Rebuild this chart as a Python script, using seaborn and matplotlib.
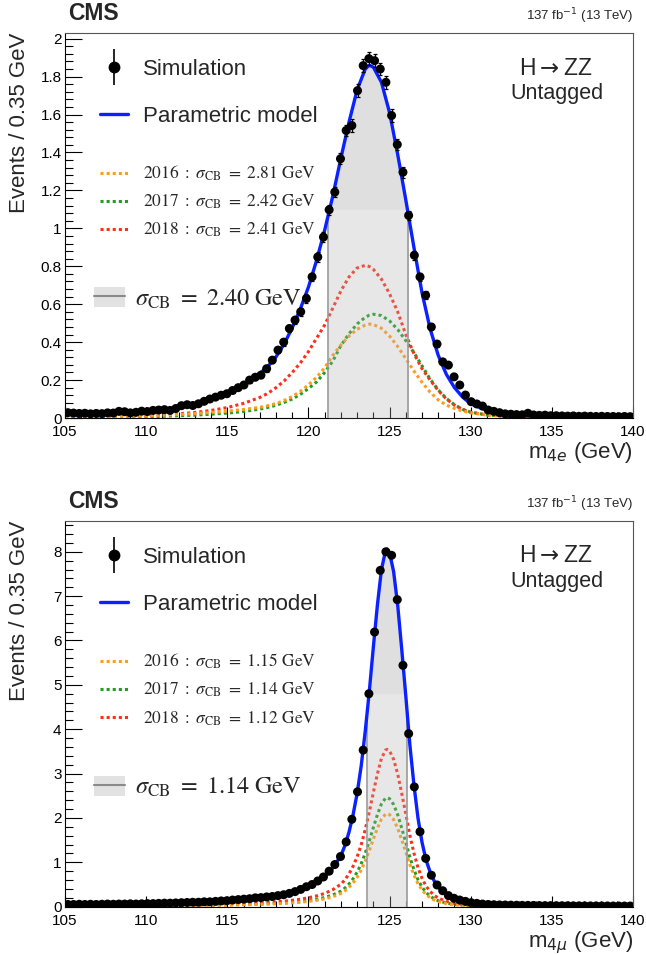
import numpy as np
import pandas as pd
import matplotlib
matplotlib.use("Agg")
import matplotlib.pyplot as plt
import seaborn as sns
from matplotlib.lines import Line2D
from matplotlib.patches import Patch
from matplotlib.legend_handler import HandlerTuple
from matplotlib.ticker import MultipleLocator, FuncFormatter

# ---------------- histogram binning (0.35 GeV bins, 105-140 GeV) ----------------
BIN_LO, BIN_HI, N_BINS = 105.0, 140.0, 100

# ---------------- top panel: m_4e ----------------
sim_4e = [
    0.028, 0.026, 0.024, 0.025, 0.022, 0.024, 0.023, 0.027, 0.026, 0.035,
    0.033, 0.027, 0.030, 0.036, 0.034, 0.040, 0.042, 0.044, 0.040, 0.050,
    0.065, 0.070, 0.066, 0.075, 0.088, 0.100, 0.110, 0.120, 0.128, 0.145,
    0.160, 0.174, 0.200, 0.215, 0.226, 0.260, 0.305, 0.358, 0.400, 0.472,
    0.516, 0.560, 0.630, 0.744, 0.849, 0.954, 1.098, 1.191, 1.367, 1.516,
    1.542, 1.726, 1.858, 1.895, 1.884, 1.840, 1.770, 1.595, 1.442, 1.296,
    1.068, 0.858, 0.744, 0.647, 0.480, 0.390, 0.296, 0.279, 0.217, 0.174,
    0.121, 0.086, 0.074, 0.063, 0.042, 0.035, 0.028, 0.022, 0.020, 0.018,
    0.017, 0.025, 0.016, 0.014, 0.015, 0.012, 0.012, 0.011, 0.010, 0.011,
    0.009, 0.010, 0.009, 0.008, 0.009, 0.008, 0.008, 0.007, 0.008, 0.007]
err_4e = [
    0.004, 0.004, 0.004, 0.004, 0.004, 0.004, 0.004, 0.004, 0.004, 0.004,
    0.005, 0.005, 0.005, 0.005, 0.005, 0.005, 0.005, 0.005, 0.005, 0.005,
    0.007, 0.007, 0.008, 0.008, 0.009, 0.009, 0.010, 0.010, 0.011, 0.011,
    0.012, 0.012, 0.013, 0.014, 0.014, 0.015, 0.016, 0.017, 0.018, 0.019,
    0.020, 0.021, 0.022, 0.023, 0.024, 0.025, 0.026, 0.027, 0.028, 0.030,
    0.032, 0.033, 0.034, 0.034, 0.034, 0.034, 0.033, 0.032, 0.030, 0.028,
    0.026, 0.024, 0.022, 0.020, 0.018, 0.016, 0.014, 0.013, 0.012, 0.011,
    0.010, 0.009, 0.008, 0.008, 0.007, 0.007, 0.006, 0.006, 0.005, 0.005,
    0.005, 0.005, 0.005, 0.005, 0.005, 0.004, 0.004, 0.004, 0.004, 0.004,
    0.004, 0.004, 0.004, 0.004, 0.004, 0.004, 0.004, 0.004, 0.004, 0.004]

x_4e = [105, 107, 109, 110, 111, 112, 113, 114, 115, 116, 117, 117.5, 118, 118.5,
        119, 119.5, 120, 120.5, 121, 121.5, 122, 122.5, 123, 123.5, 123.75, 124,
        124.5, 125, 125.5, 126, 126.5, 127, 127.5, 128, 128.5, 129, 129.5, 130,
        131, 132, 133, 135, 137, 140]
model_4e = [0.020, 0.022, 0.028, 0.033, 0.042, 0.055, 0.073, 0.098, 0.132, 0.178,
            0.235, 0.272, 0.322, 0.390, 0.475, 0.575, 0.690, 0.830, 0.990, 1.170,
            1.370, 1.560, 1.730, 1.840, 1.860, 1.850, 1.770, 1.610, 1.390, 1.150,
            0.900, 0.660, 0.470, 0.330, 0.230, 0.160, 0.110, 0.075, 0.040, 0.026,
            0.018, 0.012, 0.010, 0.008]
y2016_4e = [0.005, 0.007, 0.009, 0.011, 0.014, 0.018, 0.023, 0.029, 0.036, 0.045,
            0.056, 0.065, 0.076, 0.092, 0.113, 0.140, 0.175, 0.215, 0.265, 0.330,
            0.385, 0.432, 0.468, 0.490, 0.495, 0.493, 0.473, 0.432, 0.377, 0.313,
            0.248, 0.188, 0.136, 0.095, 0.068, 0.050, 0.037, 0.027, 0.016, 0.010,
            0.007, 0.004, 0.003, 0.002]
y2017_4e = [0.004, 0.005, 0.006, 0.007, 0.009, 0.012, 0.015, 0.020, 0.026, 0.034,
            0.047, 0.056, 0.067, 0.082, 0.100, 0.125, 0.155, 0.190, 0.240, 0.300,
            0.382, 0.444, 0.496, 0.531, 0.542, 0.547, 0.540, 0.512, 0.467, 0.408,
            0.345, 0.275, 0.205, 0.148, 0.103, 0.070, 0.046, 0.031, 0.016, 0.010,
            0.007, 0.004, 0.003, 0.002]
y2018_4e = [0.006, 0.008, 0.011, 0.013, 0.017, 0.022, 0.029, 0.040, 0.055, 0.077,
            0.108, 0.130, 0.160, 0.195, 0.240, 0.290, 0.350, 0.420, 0.490, 0.579,
            0.670, 0.744, 0.791, 0.805, 0.799, 0.784, 0.732, 0.655, 0.560, 0.440,
            0.340, 0.260, 0.200, 0.145, 0.100, 0.068, 0.045, 0.030, 0.016, 0.010,
            0.007, 0.004, 0.003, 0.002]
band_4e = (121.22, 126.15)
band_dark_4e = 1.10
sigma_years_4e = ["2.81", "2.42", "2.41"]
sigma_all_4e = "2.40"

# ---------------- bottom panel: m_4mu ----------------
sim_4mu = [
    0.050, 0.050, 0.055, 0.050, 0.055, 0.050, 0.055, 0.060, 0.055, 0.060,
    0.060, 0.065, 0.060, 0.065, 0.070, 0.070, 0.075, 0.080, 0.080, 0.085,
    0.090, 0.095, 0.100, 0.100, 0.110, 0.110, 0.120, 0.130, 0.135, 0.150,
    0.160, 0.170, 0.180, 0.200, 0.205, 0.220, 0.230, 0.250, 0.270, 0.300,
    0.340, 0.390, 0.450, 0.500, 0.580, 0.670, 0.800, 0.950, 1.130, 1.460,
    1.970, 2.590, 3.530, 4.800, 6.190, 7.580, 8.000, 7.920, 6.920, 5.440,
    3.900, 2.700, 1.690, 1.090, 0.710, 0.490, 0.360, 0.250, 0.190, 0.150,
    0.120, 0.090, 0.075, 0.060, 0.050, 0.045, 0.040, 0.038, 0.035, 0.033,
    0.030, 0.030, 0.028, 0.026, 0.025, 0.024, 0.023, 0.022, 0.022, 0.020,
    0.020, 0.019, 0.018, 0.018, 0.017, 0.017, 0.016, 0.016, 0.015, 0.015]

x_4mu = [105, 107, 109, 111, 113, 115, 116, 117, 118, 118.5, 119, 119.5, 120,
         120.5, 121, 121.5, 122, 122.25, 122.5, 122.75, 123, 123.25, 123.5, 123.75,
         124, 124.25, 124.5, 124.75, 124.85, 125, 125.25, 125.5, 125.75, 126,
         126.25, 126.5, 126.75, 127, 127.25, 127.5, 127.75, 128, 128.5, 129, 129.5,
         130, 131, 132, 134, 137, 140]
model_4mu = [0.050, 0.055, 0.065, 0.080, 0.100, 0.140, 0.170, 0.200, 0.250, 0.280,
             0.330, 0.380, 0.460, 0.550, 0.680, 0.870, 1.150, 1.380, 1.680, 2.070,
             2.550, 3.170, 3.950, 4.850, 5.850, 6.800, 7.600, 8.020, 8.060, 7.980,
             7.550, 6.800, 5.800, 4.750, 3.650, 2.750, 2.000, 1.450, 1.050, 0.780,
             0.580, 0.440, 0.270, 0.170, 0.120, 0.085, 0.050, 0.035, 0.022, 0.015,
             0.012]
y2016_4mu = [0.013, 0.014, 0.017, 0.021, 0.026, 0.036, 0.044, 0.052, 0.065, 0.073,
             0.086, 0.099, 0.120, 0.143, 0.177, 0.226, 0.299, 0.359, 0.437, 0.538,
             0.663, 0.824, 1.027, 1.261, 1.521, 1.768, 1.976, 2.085, 2.096, 2.075,
             1.963, 1.768, 1.508, 1.235, 0.949, 0.715, 0.520, 0.377, 0.273, 0.203,
             0.151, 0.114, 0.070, 0.044, 0.031, 0.022, 0.013, 0.009, 0.006, 0.004,
             0.003]
y2017_4mu = [0.015, 0.017, 0.020, 0.024, 0.031, 0.043, 0.052, 0.061, 0.076, 0.085,
             0.101, 0.116, 0.140, 0.168, 0.207, 0.265, 0.351, 0.421, 0.512, 0.631,
             0.778, 0.967, 1.205, 1.479, 1.784, 2.074, 2.318, 2.446, 2.458, 2.434,
             2.303, 2.074, 1.769, 1.449, 1.113, 0.839, 0.610, 0.442, 0.320, 0.238,
             0.177, 0.134, 0.082, 0.052, 0.037, 0.026, 0.015, 0.011, 0.007, 0.005,
             0.004]
y2018_4mu = [0.022, 0.024, 0.029, 0.035, 0.044, 0.062, 0.075, 0.088, 0.110, 0.123,
             0.145, 0.167, 0.202, 0.242, 0.300, 0.383, 0.506, 0.607, 0.739, 0.911,
             1.122, 1.395, 1.738, 2.134, 2.574, 2.992, 3.344, 3.529, 3.546, 3.511,
             3.322, 2.992, 2.552, 2.090, 1.606, 1.210, 0.880, 0.638, 0.462, 0.343,
             0.255, 0.194, 0.119, 0.075, 0.053, 0.037, 0.022, 0.015, 0.010, 0.007,
             0.005]
band_4mu = (123.63, 126.05)
band_dark_4mu = 4.8
sigma_years_4mu = ["1.15", "1.14", "1.12"]
sigma_all_4mu = "1.14"

years = ["2016", "2017", "2018"]
ylim_4e, ylim_4mu = 2.03, 8.7

# ---------------- style ----------------
C_MODEL = "#0a22ff"
C_YEARS = ["#ff9c1c", "#1f9e1f", "#ff2e1a"]
C_BAND = "#b0b0b0"

sns.set_style("ticks")
plt.rcParams["font.family"] = ["Liberation Sans", "DejaVu Sans"]
plt.rcParams["axes.linewidth"] = 0.8

fig = plt.figure(figsize=(6.46, 9.55), dpi=100)
ax1 = fig.add_axes([65 / 646, 1 - 418 / 955, 568 / 646, 385 / 955])
ax2 = fig.add_axes([65 / 646, 1 - 906.7 / 955, 568 / 646, 386 / 955])

centres = BIN_LO + (np.arange(N_BINS) + 0.5) * (BIN_HI - BIN_LO) / N_BINS
overlay = HandlerTuple(ndivide=1, pad=0)


def draw_panel(ax, sim, err, xk, model, years_curves, band, band_dark, ylim,
               ymaj, ymin, sig_years, sig_all, xlabel):
    # per-year dotted curves (drawn under the band)
    for k in [1, 2, 0]:
        df = pd.DataFrame({"m": xk, "v": years_curves[k]})
        sns.lineplot(data=df, x="m", y="v", ax=ax, color=C_YEARS[k], lw=2.2,
                     linestyle=(0, (1, 1)), estimator=None, sort=False, zorder=2)
    # sigma band under the model
    xk_a = np.asarray(xk, float)
    mod_a = np.asarray(model, float)
    inside = xk_a[(xk_a > band[0]) & (xk_a < band[1])]
    xb = np.concatenate([[band[0]], inside, [band[1]]])
    yb = np.interp(xb, xk_a, mod_a)
    ax.fill_between(xb, 0, yb, color=C_BAND, alpha=0.3, lw=0, zorder=3)
    ax.fill_between(xb, band_dark, yb, where=yb > band_dark, interpolate=True,
                    color=C_BAND, alpha=0.14, lw=0, zorder=3)
    ax.vlines([band[0], band[1]], 0, [yb[0], yb[-1]], color="#9a9a9a", lw=1.2,
              zorder=3)
    # model
    dfm = pd.DataFrame({"m": xk, "v": model})
    sns.lineplot(data=dfm, x="m", y="v", ax=ax, color=C_MODEL, lw=2.4,
                 estimator=None, sort=False, zorder=5)
    # simulation points
    if err is not None:
        ax.errorbar(centres, sim, yerr=err, fmt="none", ecolor="k", elinewidth=0.9,
                    capsize=1.5, capthick=0.9, zorder=6)
    sns.scatterplot(x=centres, y=sim, ax=ax, color="k", s=42, edgecolor="none",
                    zorder=7, legend=False)

    ax.set_xlim(BIN_LO, BIN_HI)
    ax.set_ylim(0, ylim)
    ax.xaxis.set_major_locator(MultipleLocator(5))
    ax.xaxis.set_minor_locator(MultipleLocator(1))
    ax.yaxis.set_major_locator(MultipleLocator(ymaj))
    ax.yaxis.set_minor_locator(MultipleLocator(ymin))
    ax.yaxis.set_major_formatter(FuncFormatter(lambda v, p: "%g" % round(v, 3)))
    ax.tick_params(which="both", direction="in", top=False, right=False,
                   width=0.8, labelsize=11, colors="k")
    ax.tick_params(axis="y", which="major", length=12, pad=2.5)
    ax.tick_params(axis="y", which="minor", length=6)
    ax.tick_params(axis="x", which="major", length=8, pad=5)
    ax.tick_params(axis="x", which="minor", length=4.3)
    for s in ["top", "right"]:
        ax.spines[s].set_color("#555555")
    for s in ["left", "bottom"]:
        ax.spines[s].set_color("k")

    ax.set_ylabel("Events / 0.35 GeV", fontsize=16, loc="top")
    ax.yaxis.set_label_coords(-0.062, 1.0)
    ax.set_xlabel(xlabel, fontsize=16, loc="right", math_fontfamily="dejavusans")
    ax.xaxis.set_label_coords(1.0, -0.058)
    ax.xaxis.label.set_va("top")

    # header texts
    ax.text(0.005, 1.033, "CMS", transform=ax.transAxes, fontsize=16.5,
            fontweight="bold", ha="left", va="baseline")
    ax.text(1.0, 1.033, r"137 fb$^{-1}$ (13 TeV)", transform=ax.transAxes,
            fontsize=9.5, ha="right", va="baseline", math_fontfamily="dejavusans")
    ax.text(0.864, 0.909, r"H$\rightarrow$ZZ", transform=ax.transAxes,
            fontsize=16.5, ha="center", va="center", math_fontfamily="dejavusans")
    ax.text(0.866, 0.842, "Untagged", transform=ax.transAxes, fontsize=15.5,
            ha="center", va="center")

    # legend 1: simulation & model
    h_sim = (Line2D([], [], ls="none", marker="|", ms=26, mew=1.2, color="k"),
             Line2D([], [], ls="none", marker="o", ms=7.5, color="k"))
    h_mod = Line2D([], [], color=C_MODEL, lw=2.4)
    leg1 = ax.legend([h_sim, h_mod], ["Simulation", "Parametric model"],
                     handler_map={tuple: overlay},
                     loc="center left", bbox_to_anchor=(0.0616, 0.845),
                     frameon=False, fontsize=16, borderpad=0, borderaxespad=0,
                     handlelength=1.26, handletextpad=0.68, labelspacing=1.17)
    ax.add_artist(leg1)

    # legend 2: per-year models
    h_years = [Line2D([], [], color=C_YEARS[k], lw=2.2, linestyle=(0, (1, 1)))
               for k in range(3)]
    lab_years = [r"$\mathrm{%s\ :\ }\sigma_{\mathrm{CB}}\ =\ \mathrm{%s\ GeV}$"
                 % (years[k], sig_years[k]) for k in range(3)]
    leg2 = ax.legend(h_years, lab_years, loc="center left",
                     bbox_to_anchor=(0.0616, 0.562), frameon=False, fontsize=12.5,
                     borderpad=0, borderaxespad=0, handlelength=1.61,
                     handletextpad=0.86, labelspacing=0.56)
    for t in leg2.get_texts():
        t.set_math_fontfamily("stix")
    ax.add_artist(leg2)

    # legend 3: combined sigma band
    h_band = (Patch(facecolor="#e2e2e2", edgecolor="none"),
              Line2D([], [], color="#8a8a8a", lw=1.5))
    leg3 = ax.legend([h_band],
                     [r"$\sigma_{\mathrm{CB}}\ =\ \mathrm{%s\ GeV}$" % sig_all],
                     handler_map={tuple: overlay},
                     loc="center left", bbox_to_anchor=(0.051, 0.309),
                     frameon=False, fontsize=17.5, borderpad=0, borderaxespad=0,
                     handlelength=1.27, handleheight=0.9, handletextpad=0.41)
    for t in leg3.get_texts():
        t.set_math_fontfamily("stix")


draw_panel(ax1, sim_4e, err_4e, x_4e, model_4e, [y2016_4e, y2017_4e, y2018_4e],
           band_4e, band_dark_4e, ylim_4e, 0.2, 0.04, sigma_years_4e, sigma_all_4e,
           r"m$_{4e}$ (GeV)")
draw_panel(ax2, sim_4mu, None, x_4mu, model_4mu,
           [y2016_4mu, y2017_4mu, y2018_4mu], band_4mu, band_dark_4mu, ylim_4mu,
           1, 0.2, sigma_years_4mu, sigma_all_4mu, r"m$_{4\mu}$ (GeV)")

fig.savefig("out.png", dpi=100)
